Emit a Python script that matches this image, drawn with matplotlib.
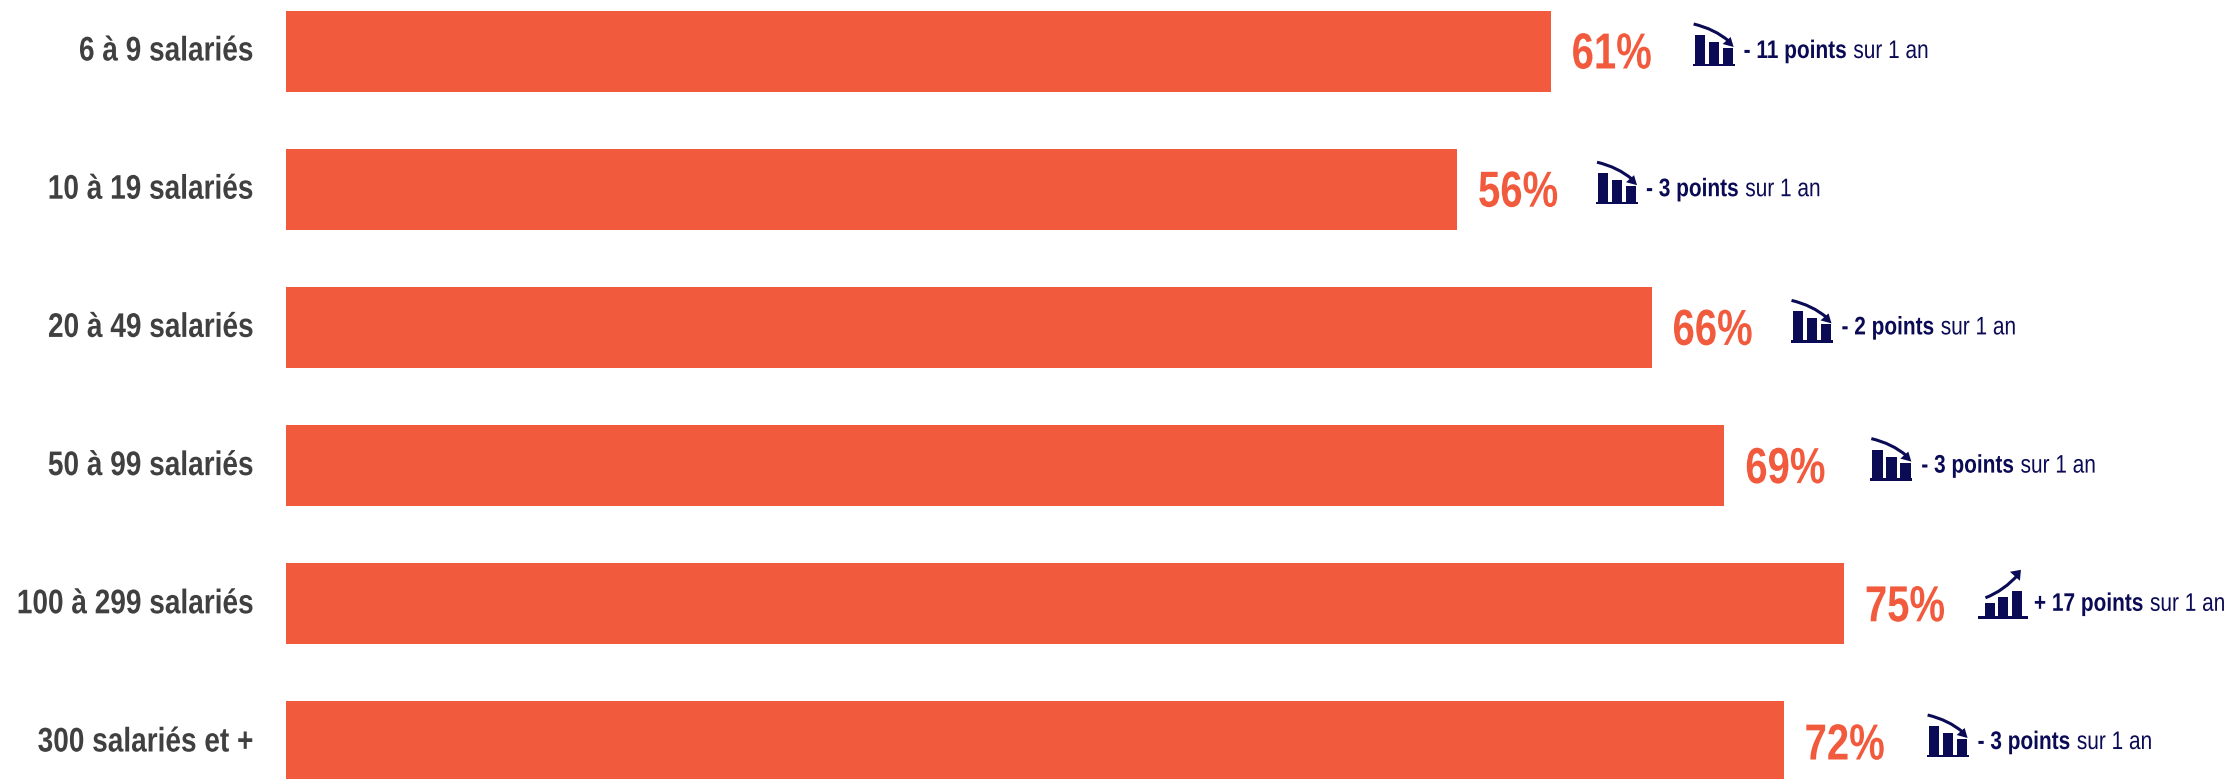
import matplotlib
matplotlib.use('Agg')
import matplotlib.pyplot as plt
from matplotlib.patches import Rectangle, PathPatch, Polygon
from matplotlib.path import Path
from matplotlib.patheffects import AbstractPathEffect
from matplotlib.transforms import Affine2D, Bbox

# values
categories = ['6 à 9 salariés', '10 à 19 salariés', '20 à 49 salariés',
              '50 à 99 salariés', '100 à 299 salariés', '300 salariés et +']
values = [60.8, 56.3, 65.65, 69.15, 74.9, 72.0]
labels = ['61%', '56%', '66%', '69%', '75%', '72%']
changes = ['- 11 points', '- 3 points', '- 2 points', '- 3 points', '+ 17 points', '- 3 points']
trends = ['down', 'down', 'down', 'down', 'up', 'down']

# layout: distance in pixels from the bar end to the icon and to its text
icon_gaps = [142, 139, 139, 146, 134, 143]
text_gaps = [193, 189, 190, 197, 190, 194]

W, H = 2229, 779
RED = '#F15A3C'
NAVY = '#0A0A55'
GREY = '#404040'
plt.rcParams['font.family'] = ['Liberation Sans']


class Squeeze(AbstractPathEffect):
    # narrows a text around a fixed x position (display pixels)
    def __init__(self, anchor_x, factor):
        super().__init__()
        self.anchor_x = anchor_x
        self.factor = factor

    def draw_path(self, renderer, gc, tpath, affine, rgbFace=None):
        squeezed = affine + Affine2D().translate(-self.anchor_x, 0).scale(self.factor, 1).translate(self.anchor_x, 0)
        renderer.draw_path(gc, tpath, squeezed, rgbFace)


def narrow_text(s, xy, dx, dy, ha='left', factor=0.82, **kw):
    # Liberation Sans squeezed to look like Arial Narrow
    t = ax.annotate(s, xy, xytext=(dx, dy), textcoords='offset pixels', ha=ha, va='center', **kw)
    anchor = ax.transData.transform(xy)[0] + dx
    t.set_path_effects([Squeeze(anchor, factor)])
    plain_extent = t.get_window_extent

    def squeezed_extent(renderer=None, dpi=None):
        b = plain_extent(renderer, dpi) if dpi else plain_extent(renderer)
        return Bbox([[anchor + (b.x0 - anchor) * factor, b.y0], [anchor + (b.x1 - anchor) * factor, b.y1]])

    t.get_window_extent = squeezed_extent
    return t


fig = plt.figure(figsize=(W / 100, H / 100), dpi=100)
ax = fig.add_axes([0, 0, 1, 1])
px_per_pct = 20.8
row = 138.2
ax.set_xlim(-286 / px_per_pct, (W - 286) / px_per_pct)
ax.set_ylim((H - 51) / row, -51 / row)
ax.axis('off')

ax.barh(range(len(values)), values, height=81 / row, color=RED)


def draw_icon(x, y, trend):
    # x, y = left of the icon base line / row centre, in pixels from top left
    tr = Affine2D().scale(1, -1).translate(x, H - y)
    if trend == 'down':
        base = Rectangle((0, 12.5), 42, 2.6)
        boxes = [(2, -16), (16, -9), (30, -3)]
        curve = Path([(1, -27), (22, -22), (36, -10)], [Path.MOVETO, Path.CURVE3, Path.CURVE3])
        head = [(41, -4), (30, -7), (38, -14)]
    else:
        base = Rectangle((0, 12.5), 50, 2.6)
        boxes = [(7, -1), (20, -7), (34, -13)]
        curve = Path([(7.5, -6), (26, -13), (41, -30)], [Path.MOVETO, Path.CURVE3, Path.CURVE3])
        head = [(43, -34), (32, -32), (42, -23)]
    parts = [base] + [Rectangle((bx, top), 10.3, 13 - top) for bx, top in boxes]
    for p in parts:
        p.set(facecolor=NAVY, edgecolor='none', transform=tr)
        ax.add_artist(p)
    ax.add_artist(PathPatch(curve, fill=False, edgecolor=NAVY, lw=2.2, transform=tr))
    ax.add_artist(Polygon(head, closed=True, facecolor=NAVY, edgecolor='none', transform=tr))


fig.canvas.draw()
renderer = fig.canvas.get_renderer()

for i, v in enumerate(values):
    x_end, y_disp = ax.transData.transform((v, i))
    y_px = H - y_disp

    narrow_text(categories[i], (0, i), -33, -1, ha='right', fontsize=24.6, fontweight='bold', color=GREY)
    narrow_text(labels[i], (v, i), 21, -4, factor=0.79, fontsize=36.5, fontweight='bold', color=RED)

    draw_icon(x_end + icon_gaps[i], y_px, trends[i])

    t = narrow_text(changes[i], (v, i), text_gaps[i], 0, fontsize=18.3, fontweight='bold', color=NAVY)
    ext = t.get_window_extent(renderer)
    narrow_text('sur 1 an', (v, i), ext.x1 - x_end + 7, 0, fontsize=18.3, color=NAVY)

fig.savefig('out.png', dpi=100)
